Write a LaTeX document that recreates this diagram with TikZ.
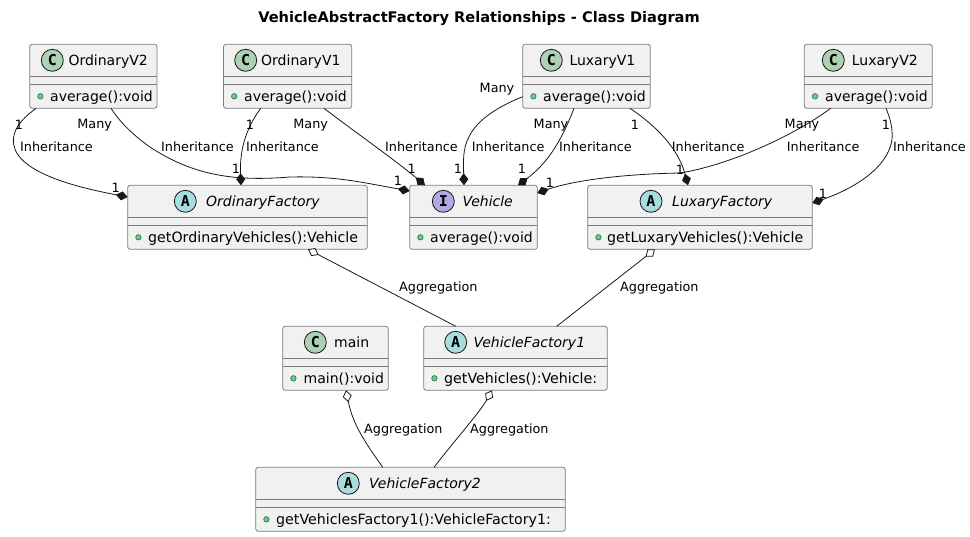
\documentclass[tikz,border=0pt]{standalone}
\usepackage{fontspec}
\setmainfont{DejaVu Sans}
\newfontfamily\iconfont[Scale=1]{DejaVu Sans Mono}
\usetikzlibrary{arrows.meta}
\definecolor{boxfill}{HTML}{F1F1F1}
\definecolor{boxline}{HTML}{7A7A7A}
\definecolor{linecol}{HTML}{181818}
\definecolor{spotC}{HTML}{ADD1B2}
\definecolor{spotA}{HTML}{A9DCDF}
\definecolor{spotI}{HTML}{B4A7E5}
\definecolor{dotfill}{HTML}{84BE84}
\definecolor{dotline}{HTML}{038048}
\tikzset{
  classbox/.style={draw=boxline, line width=.8pt, fill=boxfill, rounded corners=2.5pt, anchor=north west, inner sep=0pt, outer sep=0pt, minimum height=64pt},
  spot/.style={circle, draw=linecol, line width=.8pt, minimum size=22pt, inner sep=0pt, font=\iconfont\bfseries\fontsize{15}{15}\selectfont},
  classname/.style={anchor=base west, inner sep=0pt, font=\fontsize{14}{16}\selectfont},
  member/.style={anchor=base west, inner sep=0pt},
  dot/.style={circle, draw=dotline, line width=.6pt, fill=dotfill, minimum size=5.5pt, inner sep=0pt},
  edgelabel/.style={inner sep=0pt, font=\fontsize{12.8}{15}\selectfont},
  comp/.style={arrows={Diamond[length=12pt,width=9pt,fill=linecol]-}, draw=linecol, line width=.8pt},
  aggr/.style={arrows={Diamond[length=12pt,width=9pt,fill=white]-}, draw=linecol, line width=.8pt},
}
% #1 name, #2 left, #3 right, #4 top, #5 spot colour, #6 letter, #7 spot x, #8 title x, #9 title
\newcommand{\umlclass}[9]{
  \pgfmathsetmacro{\boxw}{#3-#2}
  \node[classbox, minimum width=\boxw pt] (#1) at (#2,#4) {};
  \draw[draw=boxline, line width=.8pt] (#2,#4+32.3) -- (#3,#4+32.3) (#2,#4+40) -- (#3,#4+40);
  \node[spot, fill=#5] (#1spot) at (#7,#4+16) {#6};
  \node[classname] (#1title) at (#8,#4+21) {#9};
  \node[dot] (#1dot) at (#2+10.7,#4+52) {};
}

\begin{document}
\begin{tikzpicture}[x=1pt, y=-1pt]
    \useasboundingbox (0,0) rectangle (970,537);
    \node[font=\bfseries\fontsize{14.6}{16}\selectfont] (diagtitle) at (479,19) {VehicleAbstractFactory Relationships - Class Diagram};

    \umlclass{ordtwo}{29.7}{157}{44.3}{spotC}{C}{52.3}{68.3}{OrdinaryV2}
    \umlclass{ordone}{223.5}{351.7}{44.3}{spotC}{C}{245.7}{261}{OrdinaryV1}
    \umlclass{luxone}{522.7}{650.3}{44.3}{spotC}{C}{551.3}{569.3}{LuxaryV1}
    \umlclass{luxtwo}{804.3}{932.3}{44.3}{spotC}{C}{833.3}{851.7}{LuxaryV2}
    \umlclass{ordfact}{127.7}{367.3}{185.3}{spotA}{A}{185.3}{206}{\itshape OrdinaryFactory}
    \umlclass{vehicle}{409.7}{537.3}{185.3}{spotI}{I}{443.3}{462.3}{\itshape Vehicle}
    \umlclass{luxfact}{587.7}{812.3}{185.3}{spotA}{A}{651}{672}{\itshape LuxaryFactory}
    \umlclass{mainc}{282.7}{388.3}{326.3}{spotC}{C}{315.3}{334}{main}
    \umlclass{factone}{423.7}{607.3}{326.3}{spotA}{A}{455.7}{473.3}{\itshape VehicleFactory1}
    \umlclass{facttwo}{255.7}{565.3}{467.3}{spotA}{A}{348.3}{369}{\itshape VehicleFactory2}

    % members
    \foreach \who/\px/\py/\sz/\txt in {ordtwo/50/101.3/14/average():void, ordone/244/101.3/14/average():void,
        luxone/543/101.3/14/average():void, luxtwo/825/101.3/14/average():void,
        ordfact/148/242.3/14.2/getOrdinaryVehicles():Vehicle, vehicle/430/242.3/14/average():void,
        luxfact/607/242.3/14.2/getLuxaryVehicles():Vehicle, mainc/303.5/383.3/14/main():void,
        factone/444/383.3/14.2/getVehicles():Vehicle:, facttwo/276/524.3/14.2/getVehiclesFactory1():VehicleFactory1:}
        \node[member, font=\fontsize{\sz}{16}\selectfont] (\who member) at (\px,\py) {\txt};

    % composition
    \draw[comp] ([yshift=-11.7pt]ordfact.north west) .. controls (70,186) and (10,170) .. (13.5,138) .. controls (15,125) and (26,116) .. ([xshift=6.3pt]ordtwo.south west);
    \draw[comp] ([yshift=-5.7pt]vehicle.north west) .. controls (360,182) and (335,176) .. (290,177) .. controls (240,181) and (195,178) .. (147,145) .. controls (130,132) and (120,122) .. ([xshift=81.3pt]ordtwo.south west);
    \draw[comp] ([xshift=113.3pt]ordfact.north west) .. controls (240,160) and (241,135) .. ([xshift=37.2pt]ordone.south west);
    \draw[comp] ([xshift=15.3pt]vehicle.north west) .. controls (395,160) and (355,132) .. ([xshift=100.5pt]ordone.south west);
    \draw[comp] ([xshift=54.3pt]vehicle.north west) .. controls (463,150) and (460,122) .. (luxone.west |- 0,96.7);
    \draw[comp] ([xshift=108.3pt]vehicle.north west) .. controls (545,165) and (560,145) .. ([xshift=51.3pt]luxone.south west);
    \draw[comp] ([xshift=100.3pt]luxfact.north west) .. controls (680,155) and (665,132) .. ([xshift=107.3pt]luxone.south west);
    \draw[comp] ([yshift=-7.7pt]vehicle.north east) .. controls (575,180) and (625,174) .. (680,173) .. controls (730,165) and (795,135) .. ([xshift=26.4pt]luxtwo.south west);
    \draw[comp] ([yshift=-17.7pt]luxfact.north east) .. controls (850,190) and (887,170) .. (892,140) .. controls (893,128) and (890,118) .. ([xshift=81.7pt]luxtwo.south west);

    % aggregation
    \draw[aggr] ([xshift=180.3pt]ordfact.south west) -- ([xshift=32pt]factone.north west);
    \draw[aggr] ([xshift=67.3pt]luxfact.south west) -- ([xshift=133pt]factone.north west);
    \draw[aggr] ([xshift=63.3pt]mainc.south west) .. controls (353,425) and (365,442) .. ([xshift=127pt]facttwo.north west);
    \draw[aggr] ([xshift=68.3pt]factone.south west) .. controls (480,412) and (455,440) .. ([xshift=178.3pt]facttwo.north west);

    % link labels
    \foreach \px/\py/\txt [count=\n] in {20/146.7/Inheritance, 161/146.7/Inheritance, 246/146.7/Inheritance,
        385/146.7/Inheritance, 471.7/146.7/Inheritance, 559/146.7/Inheritance, 671.7/146.7/Inheritance,
        786.7/146.7/Inheritance, 893/146.7/Inheritance, 399/288/Aggregation, 620/288/Aggregation,
        364/429.7/Aggregation, 470/429.7/Aggregation}
        \node[edgelabel, anchor=west] (linklabel\n) at (\px,\py) {\txt};
    \foreach \px/\py/\txt [count=\n] in {19/125/1, 94.7/125/Many, 115.7/188/1, 236/169/1, 250/125/1, 310.7/125/Many,
        411.7/169/1, 398/180.7/1, 497/89.3/Many, 458/169/1, 551/125/Many, 522/169/1, 550/183/1, 635/125/1,
        680/170/1, 802/125/Many, 886/125/1, 823/194/1}
        \node[edgelabel] (multlabel\n) at (\px,\py) {\txt};
\end{tikzpicture}
\end{document}
